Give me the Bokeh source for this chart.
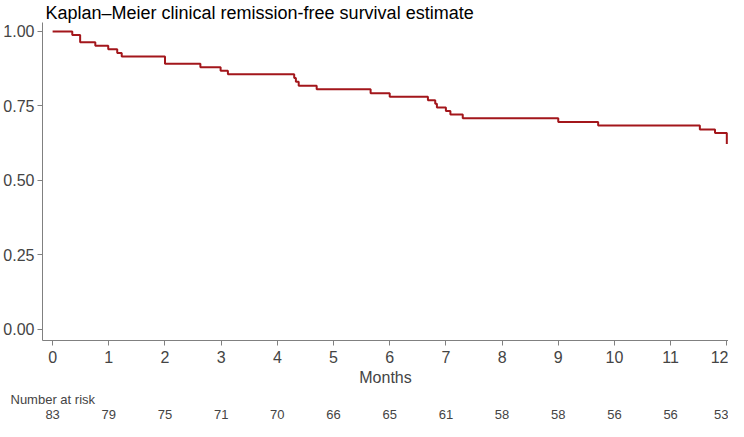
from bokeh.plotting import figure
from bokeh.models import (Range1d, FixedTicker, NumeralTickFormatter, LinearAxis,
                          Title)
from bokeh.embed import file_html
from bokeh.resources import INLINE

# Kaplan-Meier step data (months, survival estimate)
months = [0.0, 0.35, 0.49, 0.76, 0.99, 1.15, 1.23, 2.0, 2.63, 2.99, 3.12,
          4.30, 4.33, 4.38, 4.70, 5.66, 6.0, 6.68, 6.81, 6.84, 7.0, 7.08,
          7.30, 9.0, 9.71, 11.52, 11.79, 12.0]
survival = [1.0, 0.988, 0.964, 0.952, 0.940, 0.928, 0.916, 0.892, 0.880,
            0.868, 0.856, 0.844, 0.831, 0.818, 0.806, 0.793, 0.781, 0.769,
            0.757, 0.745, 0.733, 0.721, 0.709, 0.696, 0.684, 0.671, 0.659,
            0.622]

x_ticks = [0, 1, 2, 3, 4, 5, 6, 7, 8, 9, 10, 11, 12]
y_ticks = [0.0, 0.25, 0.5, 0.75, 1.0]
at_risk = [83, 79, 75, 71, 70, 66, 65, 61, 58, 58, 56, 56, 53]

FONT = "Liberation Sans"
LINE = "#a3161b"
AXIS = "#808080"

p = figure(width=728, height=421, output_backend="svg", toolbar_location=None,
           x_range=Range1d(-0.18, 12.03), y_range=Range1d(-0.037, 1.03),
           min_border_left=0, min_border_right=0, min_border_top=0,
           min_border_bottom=0)
p.outline_line_color = None
p.xgrid.visible = False
p.ygrid.visible = False

p.title.text = "Kaplan\u2013Meier clinical remission-free survival estimate"
p.title.text_font = FONT
p.title.text_font_size = "18px"
p.title.text_font_style = "normal"
p.title.text_color = "#000000"
p.title.offset = 3
p.title.standoff = 0

p.step(months, survival, mode="after", line_color=LINE, line_width=2)

# x axis
xa = p.xaxis[0]
xa.ticker = FixedTicker(ticks=x_ticks)
xa.axis_label = "Months"
xa.axis_label_text_font = FONT
xa.axis_label_text_font_size = "16px"
xa.axis_label_text_font_style = "normal"
xa.axis_label_standoff = 3
xa.major_label_text_font = FONT
xa.major_label_text_font_size = "16px"
xa.major_label_standoff = 5
xa.axis_line_color = AXIS
xa.major_tick_line_color = AXIS
xa.major_tick_out = 5
xa.major_tick_in = 0
xa.minor_tick_line_color = None

# y axis
ya = p.yaxis[0]
ya.ticker = FixedTicker(ticks=y_ticks)
ya.formatter = NumeralTickFormatter(format="0.00")
ya.major_label_text_font = FONT
ya.major_label_text_font_size = "16px"
ya.major_label_standoff = 3
ya.axis_line_color = AXIS
ya.major_tick_line_color = AXIS
ya.major_tick_out = 5
ya.major_tick_in = 0
ya.minor_tick_line_color = None

# "Number at risk" heading
risk_title = Title(text="Number at risk", align="left", offset=-32,
                   text_font=FONT, text_font_size="13px",
                   text_font_style="normal", standoff=2)
p.add_layout(risk_title, "below")

# numbers at risk as a label-only axis
ra = LinearAxis(ticker=FixedTicker(ticks=x_ticks),
                major_label_overrides={t: str(n) for t, n in zip(x_ticks, at_risk)})
ra.axis_label = None
ra.axis_label_standoff = 0
ra.axis_line_color = None
ra.major_tick_line_color = None
ra.minor_tick_line_color = None
ra.major_tick_out = 0
ra.major_tick_in = 0
ra.minor_tick_out = 0
ra.minor_tick_in = 0
ra.major_label_text_font = FONT
ra.major_label_text_font_size = "13px"
ra.major_label_standoff = 2
p.add_layout(ra, "below")

open("out.html", "w").write(file_html(p, INLINE))
